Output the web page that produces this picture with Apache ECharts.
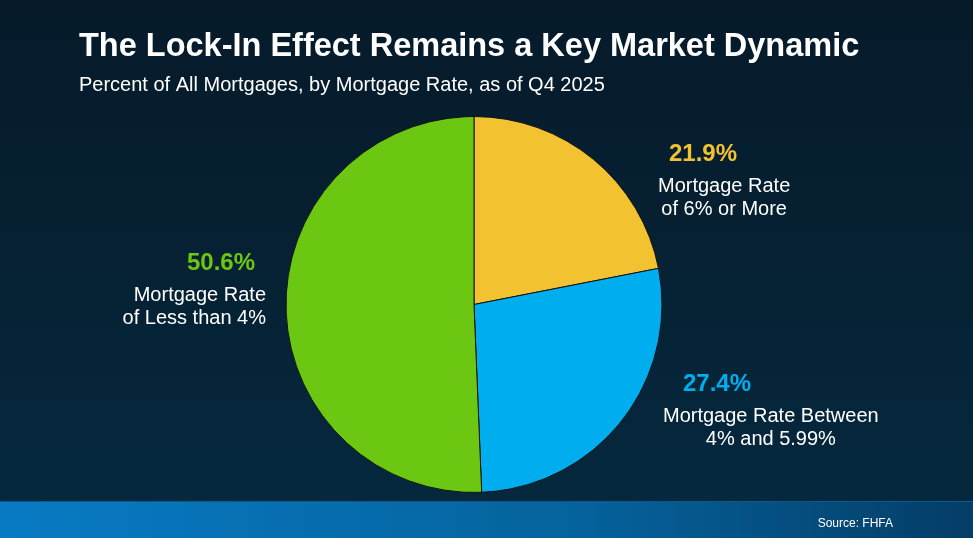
<!DOCTYPE html>
<html>
<head>
<meta charset="utf-8">
<script src="https://cdn.jsdelivr.net/npm/echarts@6/dist/echarts.min.js"></script>
<style>
  html, body { margin: 0; padding: 0; }
  #chart { width: 973px; height: 538px; }
</style>
</head>
<body>
<div id="chart"></div>
<script>
// data
var categories = ['Mortgage Rate\nof 6% or More', 'Mortgage Rate Between\n4% and 5.99%', 'Mortgage Rate\nof Less than 4%'];
var shares = [21.9, 27.4, 50.6];
var sliceColors = ['#f2c230', '#00aeef', '#6cc712'];

var FONT = '"Liberation Sans", Arial, sans-serif';

// where each label block sits: [x, y, align of block, align of percent, pad of percent, align of text]
var labelSpots = [
    [658, 134, 'left', 'left', [0, 0, 0, 11], 'center'],
    [663, 364, 'left', 'left', [0, 0, 0, 20], 'center'],
    [266, 243, 'right', 'right', [0, 11, 0, 0], 'right']
];

var chart = echarts.init(document.getElementById('chart'));

var pieData = categories.map(function (name, i) {
    var spot = labelSpots[i];
    return {
        name: name,
        value: shares[i],
        itemStyle: {color: sliceColors[i]},
        label: {
            formatter: function (p) {
                var lines = p.name.split('\n').map(function (l) {
                    return '{txt|' + l + '}';
                });
                return '{pct|' + p.value.toFixed(1) + '%}\n' + lines.join('\n');
            },
            rich: {
                pct: {
                    color: sliceColors[i],
                    fontFamily: FONT,
                    fontWeight: 'bold',
                    fontSize: 24,
                    lineHeight: 41,
                    align: spot[3],
                    padding: spot[4]
                },
                txt: {
                    color: '#ffffff',
                    fontFamily: FONT,
                    fontSize: 20,
                    lineHeight: 23,
                    align: spot[5]
                }
            }
        }
    };
});

var option = {
    backgroundColor: new echarts.graphic.LinearGradient(0, 0, 0, 1, [
        {offset: 0, color: '#061a29'},
        {offset: 1, color: '#05293f'}
    ]),
    title: [
        {
            text: 'The Lock-In Effect Remains a Key Market Dynamic',
            left: 79,
            top: 31,
            padding: 0,
            textStyle: {color: '#ffffff', fontFamily: FONT, fontWeight: 'bold', fontSize: 32.5}
        },
        {
            text: 'Percent of All Mortgages, by Mortgage Rate, as of Q4 2025',
            left: 79,
            top: 75,
            padding: 0,
            textStyle: {color: '#ffffff', fontFamily: FONT, fontWeight: 'normal', fontSize: 20}
        }
    ],
    graphic: [
        {
            type: 'rect',
            left: 0,
            top: 502,
            shape: {width: 973, height: 36},
            style: {
                fill: new echarts.graphic.LinearGradient(0, 0, 1, 0, [
                    {offset: 0, color: '#087bc4'},
                    {offset: 0.6, color: '#05629c'},
                    {offset: 1, color: '#043d66'}
                ])
            },
            z: 0
        },
        {
            type: 'rect',
            left: 0,
            top: 501,
            shape: {width: 973, height: 1},
            style: {fill: '#0b5a8e'},
            z: 0
        },
        {
            type: 'text',
            right: 80,
            top: 518,
            style: {
                text: 'Source: FHFA',
                fill: '#ffffff',
                font: '12px ' + FONT
            },
            z: 1
        }
    ],
    series: [
        {
            type: 'pie',
            center: [474, 304.5],
            radius: 188,
            startAngle: 90,
            clockwise: true,
            avoidLabelOverlap: false,
            silent: true,
            itemStyle: {borderColor: '#111111', borderWidth: 1},
            label: {show: true, position: 'outside'},
            labelLine: {show: false},
            labelLayout: function (params) {
                var spot = labelSpots[params.dataIndex];
                return {x: spot[0], y: spot[1], align: spot[2], verticalAlign: 'top'};
            },
            data: pieData
        }
    ]
};

chart.setOption(option);
</script>
</body>
</html>
